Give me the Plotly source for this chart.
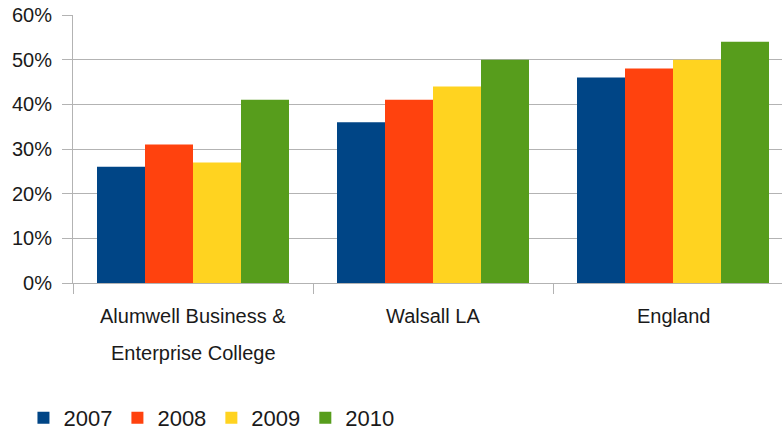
import plotly.graph_objects as go

categories = ["Alumwell Business & Enterprise College", "Walsall LA", "England"]
category_lines = [["Alumwell Business &", "Enterprise College"], ["Walsall LA"], ["England"]]
years = ["2007", "2008", "2009", "2010"]
values = {
    "2007": [0.26, 0.36, 0.46],
    "2008": [0.31, 0.41, 0.48],
    "2009": [0.27, 0.44, 0.50],
    "2010": [0.41, 0.50, 0.54],
}
colors = ["#004586", "#ff420e", "#ffd320", "#579d1c"]
y_ticks = [0, 0.1, 0.2, 0.3, 0.4, 0.5, 0.6]

fig = go.Figure()
for yr, c in zip(years, colors):
    fig.add_trace(go.Bar(name=yr, x=categories, y=values[yr], marker=dict(color=c, line=dict(width=0))))

grid = "#b3b3b3"
annotations = []
for cat, lines in zip(categories, category_lines):
    for i, line in enumerate(lines):
        annotations.append(dict(x=cat, xref="x", y=0, yref="y", text=line, showarrow=False,
                                xanchor="center", yanchor="top", yshift=-20 - 37 * i,
                                font=dict(size=20, color="#1a1a1a")))

fig.update_layout(
    width=782, height=433,
    margin=dict(l=73, r=0, t=15, b=150, autoexpand=False),
    paper_bgcolor="white", plot_bgcolor="white",
    barmode="group", bargap=0.2, bargroupgap=0,
    font=dict(family="Liberation Sans", size=20, color="#1a1a1a"),
    showlegend=True,
    legend=dict(orientation="h", xref="container", yref="container",
                x=0.030, xanchor="left", y=0.0346, yanchor="middle",
                font=dict(size=22), itemclick=False, traceorder="normal"),
    xaxis=dict(range=[-0.5, 2.5 - 11 / 240], showline=True, linecolor=grid, linewidth=1,
               ticks="outside", ticklen=10, tickcolor=grid, tickson="boundaries",
               showticklabels=False, showgrid=False, zeroline=False, automargin=False),
    yaxis=dict(range=[0, 0.6], tickvals=y_ticks, tickformat=".0%", showgrid=True, gridcolor=grid,
               gridwidth=1, showline=True, linecolor=grid, linewidth=1, ticks="outside",
               ticklen=10, tickcolor=grid, zeroline=False, automargin=False,
               ticklabelstandoff=6),
    annotations=annotations,
)
fig.write_html("out.html", config={"displayModeBar": False},
               post_script="document.body.style.margin='0';document.body.style.overflow='hidden';")
